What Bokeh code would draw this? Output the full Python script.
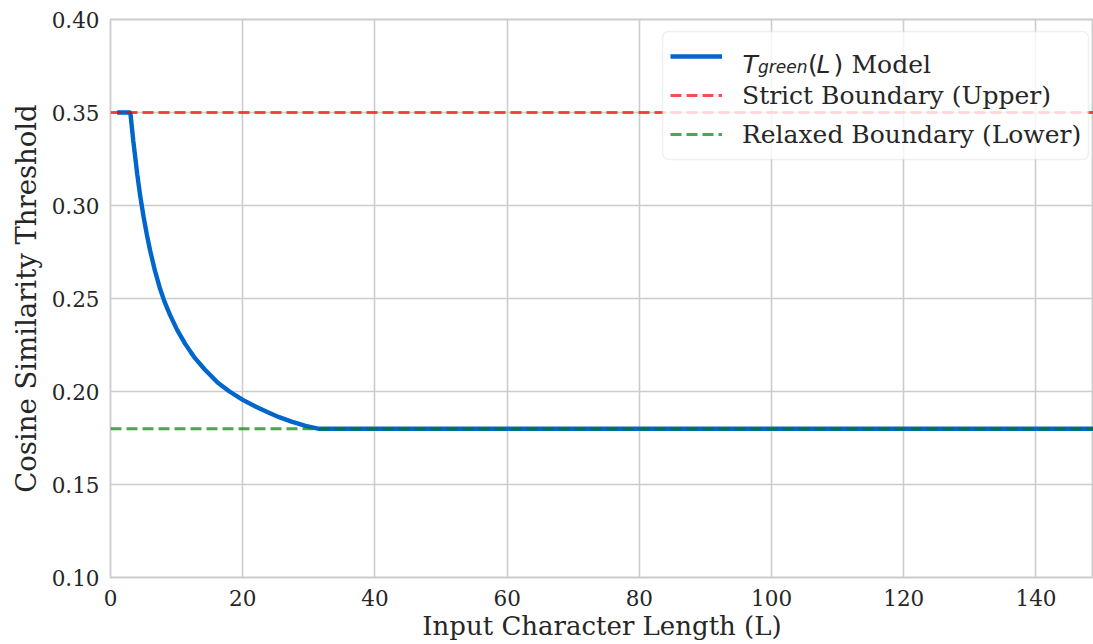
from bokeh.plotting import figure
from bokeh.models import (Range1d, FixedTicker, NumeralTickFormatter, Legend, LegendItem,
                          Label, BoxAnnotation)
from bokeh.embed import file_html
from bokeh.resources import INLINE

# ---- data ----
L_model = [1, 2, 3, 3.45, 4.05, 4.5, 5.0, 5.5, 6.0, 6.73, 7.5, 8.2, 9.0, 10.1, 11.3,
           12.65, 14.3, 16.2, 18.0, 20.0, 22.0, 23.8, 25.5, 27.4, 29.5, 31.4, 150]
T_model = [0.35, 0.35, 0.35, 0.3347, 0.3167, 0.305, 0.294, 0.2843, 0.2757, 0.2648,
           0.2552, 0.2480, 0.2412, 0.2330, 0.2256, 0.2185, 0.2117, 0.2048, 0.2000,
           0.1955, 0.1918, 0.1888, 0.1862, 0.1838, 0.1815, 0.1800, 0.1800]
boundary_x = [0, 150]
strict_upper = [0.35, 0.35]
relaxed_lower = [0.18, 0.18]
x_ticks = [0, 20, 40, 60, 80, 100, 120, 140]
y_ticks = [0.10, 0.15, 0.20, 0.25, 0.30, 0.35, 0.40]
x_label = "Input Character Length (L)"
y_label = "Cosine Similarity Threshold"
legend_labels = ["Strict Boundary (Upper)", "Relaxed Boundary (Lower)"]

TEXT = "#262626"
GRID = "#cccccc"
SERIF = "DejaVu Serif"
SANS = "DejaVu Sans"

p = figure(width=1093, height=644, output_backend="svg", toolbar_location=None,
           x_range=Range1d(0, 148.7), y_range=Range1d(0.10, 0.40),
           min_border_left=110, min_border_top=19, min_border_bottom=67, min_border_right=0)
p.background_fill_color = "white"
p.border_fill_color = "white"
p.outline_line_color = GRID
p.outline_line_width = 1.8

for ax in (p.xaxis[0], p.yaxis[0]):
    ax.axis_line_color = None
    ax.major_tick_line_color = None
    ax.minor_tick_line_color = None
    ax.major_label_text_font = SERIF
    ax.major_label_text_font_size = "21.5px"
    ax.major_label_text_color = TEXT
    ax.axis_label_text_font = SERIF
    ax.axis_label_text_font_style = "normal"
    ax.axis_label_text_color = TEXT

p.xaxis.axis_label_text_font_size = "26px"
p.yaxis.axis_label_text_font_size = "27.5px"
p.xaxis.ticker = FixedTicker(ticks=x_ticks)
p.yaxis.ticker = FixedTicker(ticks=y_ticks)
p.yaxis.formatter = NumeralTickFormatter(format="0.00")
p.xaxis.axis_label = x_label
p.yaxis.axis_label = y_label
p.xaxis.major_label_standoff = 6
p.yaxis.major_label_standoff = 5
p.xaxis.axis_label_standoff = 2
p.yaxis.axis_label_standoff = 7

p.xgrid.grid_line_color = GRID
p.ygrid.grid_line_color = GRID
p.xgrid.grid_line_width = 1.6
p.ygrid.grid_line_width = 1.6
p.xgrid.ticker = FixedTicker(ticks=x_ticks)
p.ygrid.ticker = FixedTicker(ticks=y_ticks)

r_model = p.line(L_model, T_model, line_color="#0066CC", line_width=4.4)
r_strict = p.line(boundary_x, strict_upper, line_color="red", line_alpha=0.7,
                  line_width=3, line_dash="11 5")
r_relaxed = p.line(boundary_x, relaxed_lower, line_color="green", line_alpha=0.7,
                   line_width=3, line_dash="11 5")

# legend frame (semi-transparent white, rounded, light border) in frame-relative screen units
LX, LY_BOTTOM, LW, LH, PAD = 552, 418, 426, 128, 8
frame_box = BoxAnnotation(left=LX, right=LX + LW, bottom=LY_BOTTOM, top=LY_BOTTOM + LH,
                          left_units="screen", right_units="screen",
                          bottom_units="screen", top_units="screen",
                          fill_color="white", fill_alpha=0.8,
                          line_color=GRID, line_width=1.5, border_radius=6)
p.add_layout(frame_box)

legend = Legend(items=[LegendItem(label=" ", renderers=[r_model]),
                       LegendItem(label=legend_labels[0], renderers=[r_strict]),
                       LegendItem(label=legend_labels[1], renderers=[r_relaxed])],
                location=(LX + PAD, LY_BOTTOM + PAD))
legend.label_text_font = SERIF
legend.label_text_font_size = "25px"
legend.label_text_color = TEXT
legend.glyph_width = 52
legend.glyph_height = 34
legend.label_height = 34
legend.label_standoff = 20
legend.spacing = 5
legend.padding = 0
legend.margin = 0
legend.border_line_color = None
legend.background_fill_color = None
legend.background_fill_alpha = 0
p.add_layout(legend, "center")

# math-styled first legend label: T_green(L) Model
bx = LX + PAD + 52 + 20
by = 513.5
pieces = [
    ("T", bx + 0, by, SANS, "italic", "25px"),
    ("green", bx + 15.5, by - 3.4, SANS, "italic", "17px"),
    ("(", bx + 65.5, by, SANS, "normal", "25px"),
    ("L", bx + 74, by, SANS, "italic", "25px"),
    (")", bx + 91, by, SANS, "normal", "25px"),
    ("Model", bx + 109, by, SERIF, "normal", "25px"),
]
for txt, x, y, font, style, size in pieces:
    p.add_layout(Label(x=x, y=y, x_units="screen", y_units="screen", text=txt,
                       text_font=font, text_font_style=style, text_font_size=size,
                       text_color=TEXT, text_baseline="alphabetic", text_align="left"))

open("out.html", "w").write(file_html(p, INLINE))
